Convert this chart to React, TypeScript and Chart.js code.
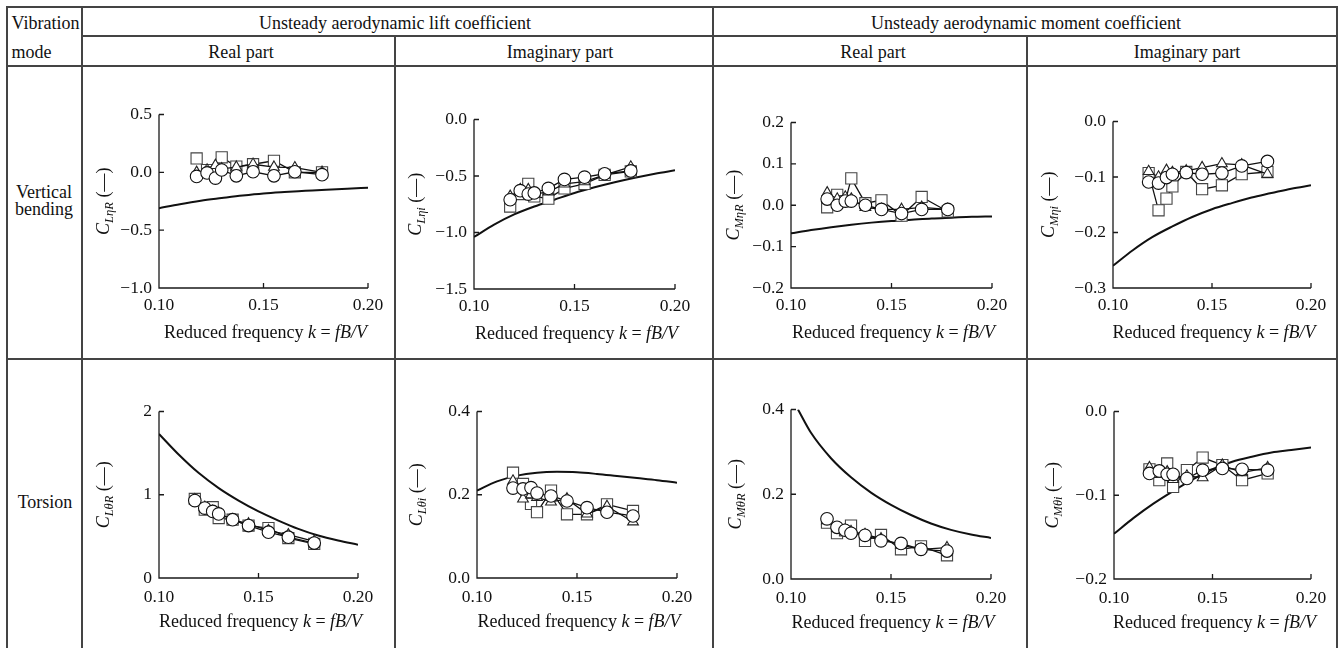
import React, { useEffect, useRef } from "react";
import { Chart, registerables } from "chart.js";
Chart.register(...registerables);

const SERIF = '"Liberation Serif", "Times New Roman", Times, serif';
const TICK_FS = 17.5;
const TXT_FS = 18;

// ---------------- data ----------------
const K = [0.118, 0.123, 0.127, 0.13, 0.137, 0.145, 0.155, 0.165, 0.178];
const KC = [0.1, 0.11, 0.12, 0.13, 0.14, 0.15, 0.16, 0.17, 0.18, 0.19, 0.2];
const KC_MTR = [0.1035, 0.11, 0.12, 0.13, 0.14, 0.15, 0.16, 0.17, 0.18, 0.19, 0.2];
const X_TICKS = [0.1, 0.15, 0.2];

// Vertical bending – lift, real part
const LER_SQ = [0.12, 0.02, 0.0, 0.13, 0.05, 0.07, 0.1, 0.0, 0.0];
const LER_TRI = [0.0, 0.02, 0.06, 0.03, 0.045, 0.07, 0.045, 0.04, 0.0];
const LER_CIR = [-0.035, -0.005, -0.05, 0.02, -0.03, 0.005, -0.03, 0.005, -0.02];
const LER_CURVE = [-0.31, -0.275, -0.245, -0.222, -0.2, -0.182, -0.17, -0.16, -0.15, -0.141, -0.133];
const LER_YT = [-1, -0.5, 0, 0.5];

// Vertical bending – lift, imaginary part
const LEI_SQ = [-0.77, -0.66, -0.57, -0.68, -0.7, -0.61, -0.57, -0.49, -0.46];
const LEI_TRI = [-0.68, -0.62, -0.62, -0.66, -0.64, -0.57, -0.55, -0.49, -0.42];
const LEI_CIR = [-0.71, -0.63, -0.66, -0.65, -0.61, -0.53, -0.51, -0.48, -0.455];
const LEI_CURVE = [-1.04, -0.93, -0.84, -0.77, -0.71, -0.65, -0.6, -0.555, -0.515, -0.48, -0.45];
const LEI_YT = [-1.5, -1, -0.5, 0];

// Vertical bending – moment, real part
const MER_SQ = [-0.005, 0.025, 0.01, 0.065, 0.005, 0.012, -0.025, 0.02, -0.015];
const MER_TRI = [0.03, 0.015, 0.02, 0.015, -0.005, -0.01, -0.01, -0.005, -0.01];
const MER_CIR = [0.015, 0.0, 0.01, 0.01, 0.0, -0.01, -0.02, -0.01, -0.01];
const MER_CURVE = [-0.068, -0.06, -0.053, -0.047, -0.042, -0.038, -0.035, -0.032, -0.03, -0.028, -0.027];
const MER_YT = [-0.2, -0.1, 0, 0.1, 0.2];

// Vertical bending – moment, imaginary part
const MEI_SQ = [-0.093, -0.16, -0.139, -0.117, -0.091, -0.122, -0.115, -0.095, -0.091];
const MEI_TRI = [-0.09, -0.1, -0.088, -0.092, -0.089, -0.083, -0.076, -0.078, -0.095];
const MEI_CIR = [-0.109, -0.111, -0.101, -0.095, -0.092, -0.095, -0.093, -0.08, -0.072];
const MEI_CURVE = [-0.26, -0.232, -0.208, -0.189, -0.172, -0.158, -0.147, -0.137, -0.129, -0.121, -0.115];
const MEI_YT = [-0.3, -0.2, -0.1, 0];

// Torsion – lift, real part
const LTR_SQ = [0.95, 0.82, 0.85, 0.72, 0.7, 0.63, 0.6, 0.48, 0.41];
const LTR_TRI = [0.94, 0.85, 0.8, 0.78, 0.7, 0.65, 0.57, 0.52, 0.44];
const LTR_CIR = [0.93, 0.84, 0.8, 0.77, 0.7, 0.63, 0.55, 0.49, 0.42];
const LTR_CURVE = [1.73, 1.48, 1.26, 1.08, 0.93, 0.8, 0.69, 0.59, 0.51, 0.45, 0.4];
const LTR_YT = [0, 1, 2];

// Torsion – lift, imaginary part
const LTI_SQ = [0.253, 0.226, 0.178, 0.158, 0.21, 0.153, 0.153, 0.177, 0.161];
const LTI_TRI = [0.233, 0.19, 0.2, 0.194, 0.183, 0.19, 0.154, 0.172, 0.135];
const LTI_CIR = [0.216, 0.214, 0.217, 0.204, 0.197, 0.185, 0.169, 0.158, 0.149];
const LTI_CURVE = [0.21, 0.232, 0.246, 0.253, 0.255, 0.254, 0.25, 0.245, 0.24, 0.235, 0.229];
const LTI_YT = [0, 0.2, 0.4];

// Torsion – moment, real part
const MTR_SQ = [0.133, 0.108, 0.115, 0.126, 0.09, 0.104, 0.07, 0.077, 0.056];
const MTR_TRI = [0.138, 0.12, 0.115, 0.112, 0.105, 0.095, 0.08, 0.07, 0.074];
const MTR_CIR = [0.142, 0.122, 0.115, 0.108, 0.103, 0.09, 0.084, 0.07, 0.066];
const MTR_CURVE = [0.4, 0.345, 0.285, 0.24, 0.204, 0.175, 0.151, 0.131, 0.116, 0.105, 0.097];
const MTR_YT = [0, 0.2, 0.4];

// Torsion – moment, imaginary part
const MTI_SQ = [-0.069, -0.082, -0.062, -0.09, -0.07, -0.055, -0.064, -0.082, -0.074];
const MTI_TRI = [-0.067, -0.075, -0.072, -0.081, -0.077, -0.079, -0.064, -0.073, -0.067];
const MTI_CIR = [-0.074, -0.071, -0.075, -0.075, -0.08, -0.07, -0.068, -0.069, -0.07];
const MTI_CURVE = [-0.146, -0.127, -0.11, -0.095, -0.081, -0.069, -0.06, -0.054, -0.049, -0.046, -0.043];
const MTI_YT = [-0.2, -0.1, 0];

// ---------------- layout ----------------
const PADL = 100, PADT = 16, PADR = 24, PADB = 64;

interface PanelDef {
  sub: string;
  sq: number[]; tri: number[]; cir: number[];
  curveK: number[]; curve: number[];
  yTicks: number[]; yDec: number;
  plot: [number, number, number, number];
  yTitleX: number;
  lblPad: number;
  titleDy: number;
}

const ROW1 = { lblPad: 6.5, titleDy: 44 };
const ROW2 = { lblPad: 8.5, titleDy: 43 };

const PANELS: PanelDef[] = [
  { sub: "L\u03B7R", sq: LER_SQ, tri: LER_TRI, cir: LER_CIR, curveK: KC, curve: LER_CURVE, yTicks: LER_YT, yDec: 1, plot: [159, 113, 368, 288], yTitleX: 103, ...ROW1 },
  { sub: "L\u03B7i", sq: LEI_SQ, tri: LEI_TRI, cir: LEI_CIR, curveK: KC, curve: LEI_CURVE, yTicks: LEI_YT, yDec: 1, plot: [474, 118, 675, 289], yTitleX: 415, ...ROW1 },
  { sub: "M\u03B7R", sq: MER_SQ, tri: MER_TRI, cir: MER_CIR, curveK: KC, curve: MER_CURVE, yTicks: MER_YT, yDec: 1, plot: [791, 121, 992, 288], yTitleX: 733, ...ROW1 },
  { sub: "M\u03B7i", sq: MEI_SQ, tri: MEI_TRI, cir: MEI_CIR, curveK: KC, curve: MEI_CURVE, yTicks: MEI_YT, yDec: 1, plot: [1113, 120, 1311, 288], yTitleX: 1048, ...ROW1 },
  { sub: "L\u03B8R", sq: LTR_SQ, tri: LTR_TRI, cir: LTR_CIR, curveK: KC, curve: LTR_CURVE, yTicks: LTR_YT, yDec: 0, plot: [159, 410, 358, 578], yTitleX: 103, ...ROW2 },
  { sub: "L\u03B8i", sq: LTI_SQ, tri: LTI_TRI, cir: LTI_CIR, curveK: KC, curve: LTI_CURVE, yTicks: LTI_YT, yDec: 1, plot: [477, 410, 677, 578], yTitleX: 416, ...ROW2 },
  { sub: "M\u03B8R", sq: MTR_SQ, tri: MTR_TRI, cir: MTR_CIR, curveK: KC_MTR, curve: MTR_CURVE, yTicks: MTR_YT, yDec: 1, plot: [791, 408, 991, 579], yTitleX: 735, ...ROW2 },
  { sub: "M\u03B8i", sq: MTI_SQ, tri: MTI_TRI, cir: MTI_CIR, curveK: KC, curve: MTI_CURVE, yTicks: MTI_YT, yDec: 1, plot: [1114, 410, 1311, 579], yTitleX: 1052, ...ROW2 },
];

type Run = { t: string; f: string; dy?: number };

function drawRuns(ctx: CanvasRenderingContext2D, runs: Run[], cx: number, cy: number) {
  let total = 0;
  const ws = runs.map((r) => {
    ctx.font = r.f;
    const w = ctx.measureText(r.t).width;
    total += w;
    return w;
  });
  let x = cx - total / 2;
  const base = cy + 0.33 * TXT_FS;
  ctx.textAlign = "left";
  ctx.textBaseline = "alphabetic";
  runs.forEach((r, i) => {
    ctx.font = r.f;
    ctx.fillText(r.t, x, base + (r.dy || 0));
    x += ws[i];
  });
}

const fmtY = (v: number, dec: number) => {
  const s = Math.abs(v) < 1e-9 ? (0).toFixed(dec) : v.toFixed(dec);
  return s.replace("-", "\u2212");
};

function Panel({ p }: { p: PanelDef }) {
  const ref = useRef<HTMLCanvasElement>(null);
  const [L, T, R, B] = p.plot;
  const W = R - L + PADL + PADR;
  const H = B - T + PADT + PADB;

  useEffect(() => {
    const pts = (ys: number[], xs: number[] = K) => ys.map((y, i) => ({ x: xs[i], y }));
    const marker = (data: any, style: string, radius: number, color: string) => ({
      data,
      showLine: true,
      borderColor: "#111",
      borderWidth: 1.3,
      pointStyle: style,
      pointRadius: radius,
      pointHoverRadius: radius,
      pointBorderColor: color,
      pointBackgroundColor: "#fff",
      pointBorderWidth: 1.1,
      fill: false,
      tension: 0,
    });

    const axesPlugin = {
      id: "customAxes",
      beforeDatasetsDraw(chart: any) {
        const { ctx, chartArea: a, scales } = chart;
        const xs = scales.x, ys = scales.y;
        ctx.save();
        ctx.strokeStyle = "#1a1a1a";
        ctx.lineWidth = 1.3;
        ctx.beginPath();
        ctx.moveTo(a.left, a.top);
        ctx.lineTo(a.left, a.bottom);
        ctx.lineTo(a.right, a.bottom);
        for (const t of xs.ticks) {
          const px = xs.getPixelForValue(t.value);
          ctx.moveTo(px, a.bottom);
          ctx.lineTo(px, a.bottom - 5);
        }
        for (const t of ys.ticks) {
          const py = ys.getPixelForValue(t.value);
          ctx.moveTo(a.left, py);
          ctx.lineTo(a.left + 5, py);
        }
        ctx.stroke();
        ctx.restore();
      },
      afterDraw(chart: any) {
        const { ctx, chartArea: a } = chart;
        ctx.save();
        ctx.fillStyle = "#111";
        const nf = `${TXT_FS}px ${SERIF}`;
        const itf = `italic ${TXT_FS}px ${SERIF}`;
        drawRuns(
          ctx,
          [
            { t: "Reduced frequency ", f: nf },
            { t: "k", f: itf },
            { t: " = ", f: nf },
            { t: "fB/V", f: itf },
          ],
          (a.left + a.right) / 2 + 2,
          a.bottom + p.titleDy
        );
        const cx = a.left - (L - p.yTitleX);
        const cy = (a.top + a.bottom) / 2;
        ctx.translate(cx, cy);
        ctx.rotate(-Math.PI / 2);
        drawRuns(
          ctx,
          [
            { t: "C", f: itf },
            { t: p.sub, f: `italic 12.5px ${SERIF}`, dy: 4 },
            { t: " (\u2014)", f: nf },
          ],
          0,
          0
        );
        ctx.restore();
      },
    };

    const yMin = p.yTicks[0];
    const yMax = p.yTicks[p.yTicks.length - 1];

    const chart = new Chart(ref.current as HTMLCanvasElement, {
      type: "scatter",
      data: {
        datasets: [
          marker(pts(p.cir), "circle", 6.3, "#111"),
          marker(pts(p.tri), "triangle", 6.2, "#222"),
          marker(pts(p.sq), "rect", 7.9, "#444"),
          {
            data: pts(p.curve, p.curveK),
            showLine: true,
            borderColor: "#111",
            borderWidth: 2,
            pointRadius: 0,
            pointHoverRadius: 0,
            cubicInterpolationMode: "monotone",
            fill: false,
          },
        ] as any,
      },
      options: {
        animation: false,
        responsive: false,
        devicePixelRatio: 1,
        events: [],
        layout: { padding: { left: 0, top: PADT, right: PADR, bottom: 0 } },
        plugins: { legend: { display: false }, tooltip: { enabled: false } },
        scales: {
          x: {
            type: "linear",
            min: 0.1,
            max: 0.2,
            grid: { display: false, drawTicks: false },
            border: { display: false },
            afterBuildTicks: (s: any) => {
              s.ticks = X_TICKS.map((v) => ({ value: v }));
            },
            afterFit: (s: any) => {
              s.height = PADB;
            },
            ticks: {
              padding: p.lblPad,
              color: "#111",
              font: { family: SERIF, size: TICK_FS },
              maxRotation: 0,
              autoSkip: false,
              callback: (v: any) => Number(v).toFixed(2),
            },
          },
          y: {
            type: "linear",
            min: yMin,
            max: yMax,
            grid: { display: false, drawTicks: false },
            border: { display: false },
            afterBuildTicks: (s: any) => {
              s.ticks = p.yTicks.map((v) => ({ value: v }));
            },
            afterFit: (s: any) => {
              s.width = PADL;
            },
            ticks: {
              padding: 7,
              color: "#111",
              font: { family: SERIF, size: TICK_FS },
              autoSkip: false,
              callback: (v: any) => fmtY(Number(v), p.yDec),
            },
          },
        },
      } as any,
      plugins: [axesPlugin as any],
    });
    return () => chart.destroy();
  }, []);

  return (
    <canvas
      ref={ref}
      width={W}
      height={H}
      style={{ position: "absolute", left: L - PADL, top: T - PADT, width: W, height: H }}
    />
  );
}

const LINE = "#444";
function HLine({ y, x1, x2 }: { y: number; x1: number; x2: number }) {
  return <div style={{ position: "absolute", left: x1, top: y, width: x2 - x1, height: 2, background: LINE }} />;
}
function VLine({ x, y1, y2 }: { x: number; y1: number; y2: number }) {
  return <div style={{ position: "absolute", left: x, top: y1, width: 2, height: y2 - y1, background: LINE }} />;
}
function Txt({ x, y, children, left }: { x: number; y: number; children: any; left?: boolean }) {
  return (
    <div
      style={{
        position: "absolute",
        left: x,
        top: y,
        transform: left ? "translate(0,-50%)" : "translate(-50%,-50%)",
        whiteSpace: "nowrap",
        fontFamily: SERIF,
        fontSize: TXT_FS,
        lineHeight: 1,
        color: "#111",
      }}
    >
      {children}
    </div>
  );
}

export default function App() {
  return (
    <div style={{ position: "absolute", left: 0, top: 0, width: 1339, height: 648, overflow: "hidden", background: "#fff" }}>
      {/* table frame */}
      <HLine y={6} x1={6} x2={1338} />
      <HLine y={35} x1={81} x2={1338} />
      <HLine y={65} x1={6} x2={1338} />
      <HLine y={358} x1={6} x2={1338} />
      <VLine x={6} y1={6} y2={648} />
      <VLine x={81} y1={6} y2={648} />
      <VLine x={394} y1={35} y2={648} />
      <VLine x={712} y1={6} y2={648} />
      <VLine x={1026} y1={35} y2={648} />
      <VLine x={1336} y1={6} y2={648} />

      {/* header text */}
      <Txt x={11.5} y={23} left>Vibration</Txt>
      <Txt x={11.5} y={52} left>mode</Txt>
      <Txt x={395} y={23}>Unsteady aerodynamic lift coefficient</Txt>
      <Txt x={1026} y={23}>Unsteady aerodynamic moment coefficient</Txt>
      <Txt x={241} y={52}>Real part</Txt>
      <Txt x={560} y={52}>Imaginary part</Txt>
      <Txt x={873} y={52}>Real part</Txt>
      <Txt x={1187} y={52}>Imaginary part</Txt>

      {/* row labels */}
      <Txt x={44} y={192}>Vertical</Txt>
      <Txt x={44} y={209}>bending</Txt>
      <Txt x={45} y={502}>Torsion</Txt>

      {PANELS.map((p, i) => (
        <Panel key={i} p={p} />
      ))}
    </div>
  );
}
